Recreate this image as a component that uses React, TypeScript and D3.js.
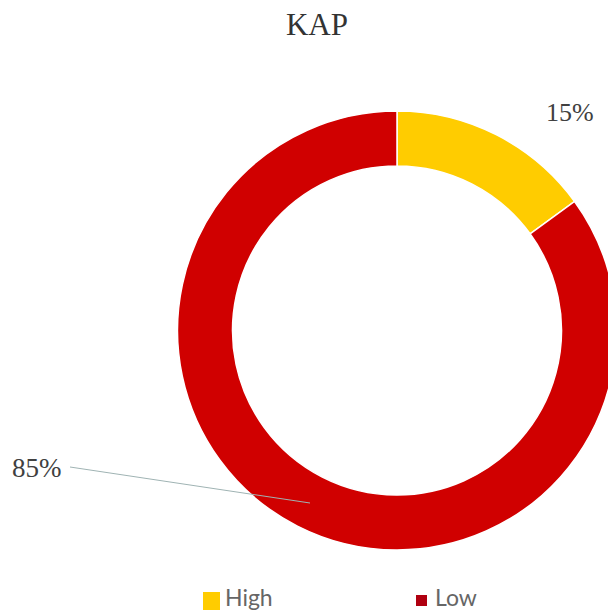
import React from "react";
import * as d3 from "d3";

const categories = ["High", "Low"];
const values = [15, 85];
const labels = ["15%", "85%"];
const colors = ["#FFCC00", "#D00000"];

const W = 608;
const H = 612;
const cx = 397;
const cy = 330.5;
const outerR = 219.5;
const innerR = 164.5;

export default function App() {
  const pie = d3.pie<number>().sort(null).value((d) => d);
  const arcs = pie(values);
  const arc = d3.arc<d3.PieArcDatum<number>>().innerRadius(innerR).outerRadius(outerR);

  return (
    <svg
      width={W}
      height={H}
      style={{ position: "absolute", left: 0, top: 0, background: "#fff" }}
    >
      <text
        x={317}
        y={35}
        textAnchor="middle"
        fontFamily="Liberation Serif, serif"
        fontSize={31}
        fill="#333"
      >
        KAP
      </text>
      <g transform={`translate(${cx},${cy})`}>
        {arcs.map((a, i) => (
          <path key={categories[i]} d={arc(a) || ""} fill={colors[i]} stroke="#fff" strokeWidth={1.5} />
        ))}
      </g>
      <line x1={70} y1={467} x2={310} y2={503} stroke="#9fb3b3" strokeWidth={1} />
      <text x={546} y={121} fontFamily="Liberation Serif, serif" fontSize={26} fill="#404040">
        {labels[0]}
      </text>
      <text x={12} y={477} fontFamily="Liberation Serif, serif" fontSize={27} fill="#404040">
        {labels[1]}
      </text>
      <g>
        <rect x={203} y={592} width={17} height={18} fill={colors[0]} />
        <text x={225} y={606} fontFamily="Lato, Liberation Sans, sans-serif" fontSize={23} fill="#666">
          {categories[0]}
        </text>
        <rect x={416} y={595} width={11} height={11} fill="#B00010" />
        <text x={435} y={606} fontFamily="Lato, Liberation Sans, sans-serif" fontSize={23} fill="#666">
          {categories[1]}
        </text>
      </g>
    </svg>
  );
}
